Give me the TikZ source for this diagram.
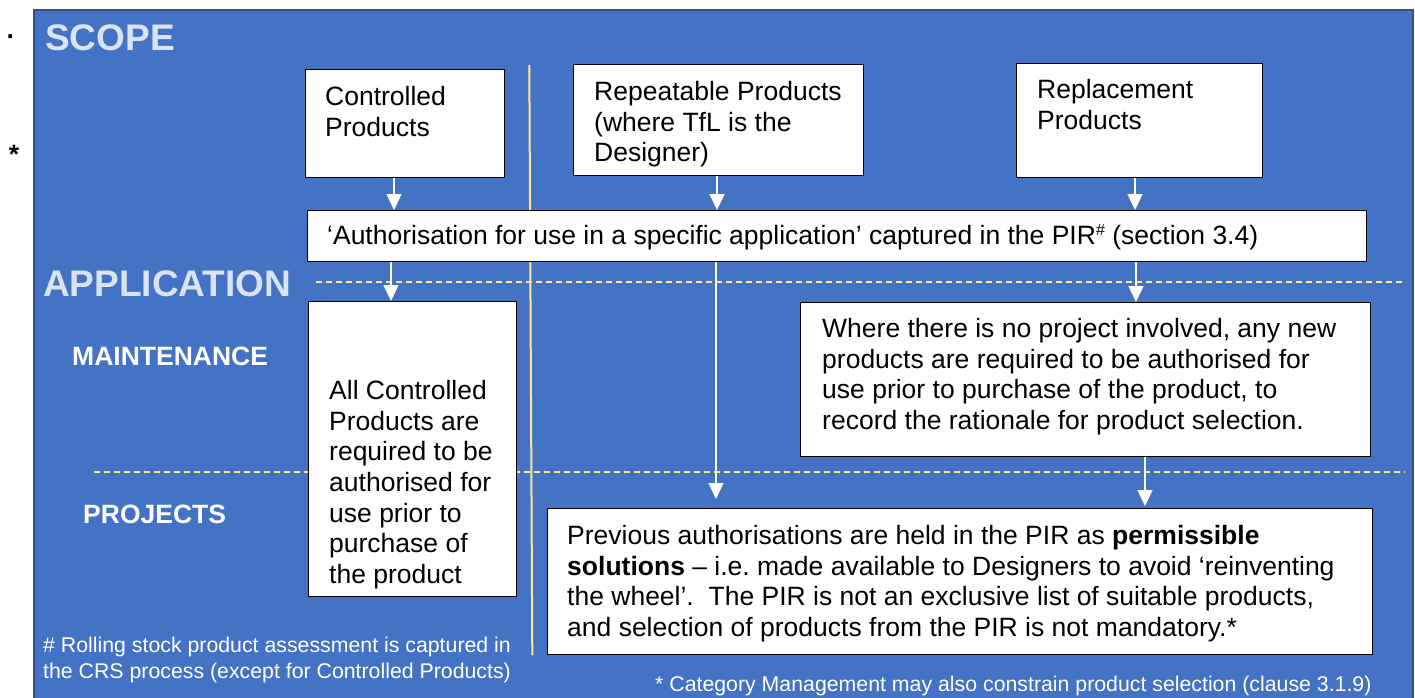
\documentclass[tikz,border=0pt]{standalone}
\usepackage{fontspec}
\setmainfont{Liberation Sans}
\usetikzlibrary{arrows.meta,calc}
\definecolor{bgblue}{HTML}{4472C4}
\definecolor{bgborder}{HTML}{2F528F}
\definecolor{paleyel}{HTML}{FFE699}
\definecolor{headblue}{HTML}{DAE3F3}
\frenchspacing
\begin{document}
\begin{tikzpicture}[x=1pt,y=-1pt,
  box/.style={draw=black, line width=1.3pt, fill=white, inner sep=0pt, anchor=north west},
  txt/.style={anchor=north west, inner sep=0pt, align=left, text=black, font=\fontsize{26.5}{30.7}\selectfont},
  arr/.style={draw=white, line width=1.4pt, -{Triangle[length=16pt,width=15pt]}},
  bighead/.style={anchor=west, inner sep=0pt, text=headblue, font=\fontsize{37}{40}\selectfont\bfseries},
  subhead/.style={anchor=west, inner sep=0pt, text=white, font=\fontsize{26.5}{30}\selectfont\bfseries},
  foot/.style={anchor=north west, inner sep=0pt, align=left, text=white, font=\fontsize{21.3}{26}\selectfont},
  dashline/.style={draw=paleyel, line width=1.2pt, dash pattern=on 6pt off 4pt},
  sidemark/.style={anchor=base, inner sep=0pt, text=black, font=\fontsize{26.5}{30}\selectfont\bfseries}
]
\useasboundingbox (0,0) rectangle (1415,698);
% background panel
\fill[bgblue] (34,10) rectangle (1413,698);
\draw[bgborder, line width=2pt] (34,699) -- (34,10) -- (1413,10) -- (1413,699);
% marks outside the panel
\node[sidemark] (dotmark) at (11,45.5) {·};
\node[sidemark] (starmark) at (14,163) {*};
% headings
\node[bighead] (scope) at (45,38) {SCOPE};
\node[bighead] (appl) at (43,284) {APPLICATION};
\node[subhead] (maint) at (72,356) {MAINTENANCE};
\node[subhead] (proj) at (83,514) {PROJECTS};
% dashed separators
\draw[dashline] (316,282) -- (1405,282);
\draw[dashline] (94,472) -- (1405,472);
% vertical divider
\draw[paleyel, line width=2pt] (529.3,65) -- (532.3,655);
% boxes
\node[box, minimum width=199pt, minimum height=108pt] (ctrl) at (305,69) {};
\node[txt] (ctrlt) at (325,86) {Controlled\\Products};
\node[box, minimum width=290pt, minimum height=111pt] (rep) at (573,64) {};
\node[txt] (rept) at (594,81) {Repeatable Products\\(where TfL is the\\Designer)};
\node[box, minimum width=246pt, minimum height=114pt] (repl) at (1016,63) {};
\node[txt] (replt) at (1037,79) {Replacement\\Products};
\node[box, minimum width=1059pt, minimum height=51pt] (auth) at (307,210) {};
\node[txt] (autht) at (327,224.5) {‘Authorisation for use in a specific application’ captured in the PIR{\fontsize{16}{16}\selectfont\raisebox{9pt}{\#}} (section 3.4)};
\node[box, minimum width=208pt, minimum height=295pt] (allc) at (308,301) {};
\node[txt] (allct) at (329,380) {All Controlled\\Products are\\required to be\\authorised for\\use prior to\\purchase of\\the product};
\node[box, minimum width=570pt, minimum height=154pt] (where) at (800,302) {};
\node[txt] (wheret) at (822,318) {Where there is no project involved, any new\\products are required to be authorised for\\use prior to purchase of the product, to\\record the rationale for product selection.};
\node[box, minimum width=825pt, minimum height=146pt] (prev) at (547,508) {};
\node[txt] (prevt) at (567,525) {Previous authorisations are held in the PIR as \textbf{permissible}\\\textbf{solutions} – i.e. made available to Designers to avoid ‘reinventing\\the wheel’.\ \ The PIR is not an exclusive list of suitable products,\\and selection of products from the PIR is not mandatory.*};
% footnotes
\node[foot] (foot1) at (43,637) {\# Rolling stock product assessment is captured in\\the CRS process (except for Controlled Products)};
\node[foot] (foot2) at (655,676) {* Category Management may also constrain product selection (clause 3.1.9)};
% arrows
\draw[arr] (ctrl.south -| 394,0) -- (auth.north -| 394,0);
\draw[arr] (rep.south -| 717,0) -- (auth.north -| 717,0);
\draw[arr] (repl.south -| 1135,0) -- (auth.north -| 1135,0);
\draw[arr] (auth.south -| 391,0) -- (allc.north -| 391,0);
\draw[arr] (auth.south -| 1136,0) -- (where.north -| 1136,0);
\draw[arr] (auth.south -| 716,0) -- ([yshift=9pt]prev.north -| 716,0);
\draw[arr] (where.south -| 1145,0) -- ([yshift=2pt]prev.north -| 1145,0);
\end{tikzpicture}
\end{document}
